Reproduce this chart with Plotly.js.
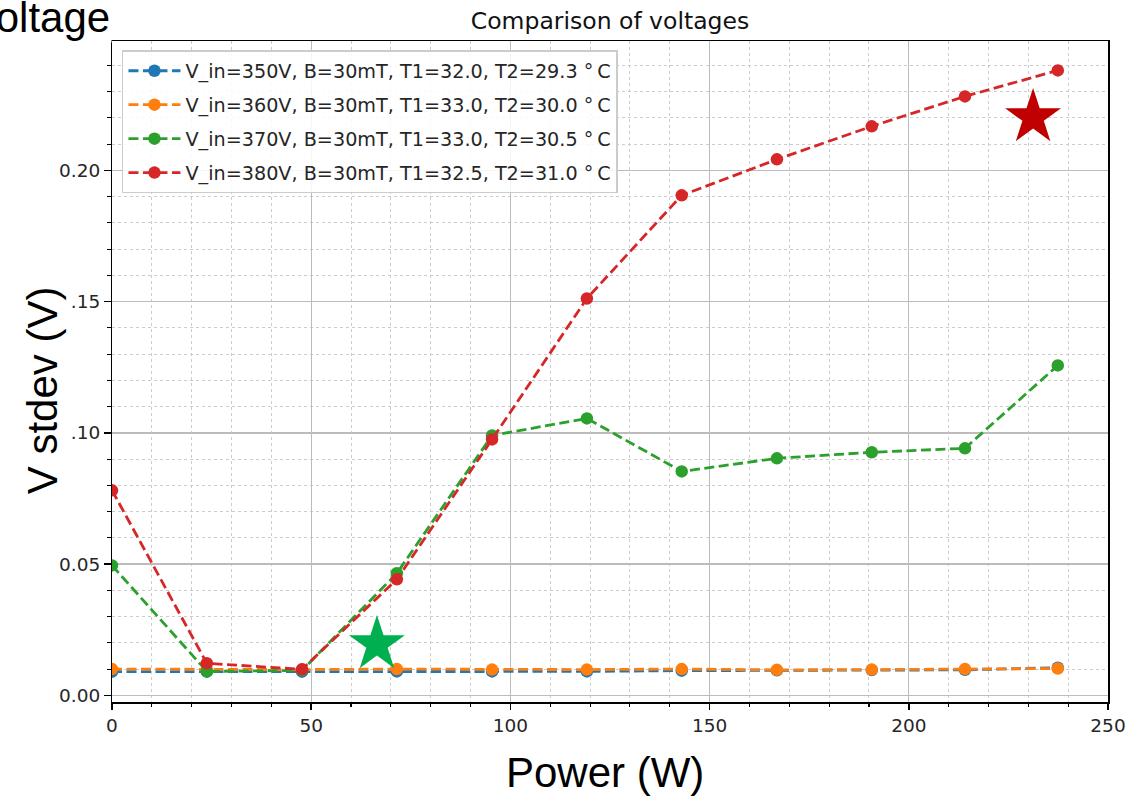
<!DOCTYPE html>
<html>
<head>
<meta charset="utf-8">
<script src="https://cdn.plot.ly/plotly-3.0.1.min.js"></script>
<style>
  html, body { margin: 0; padding: 0; background: #ffffff; }
  #chart { width: 1130px; height: 797px; }
</style>
</head>
<body>
<div id="chart"></div>
<script>
// ---- data ----
const powerW = [0, 23.8, 47.7, 71.5, 95.4, 119.2, 143.0, 166.9, 190.7, 214.1, 237.4];

const vstd350 = [0.0090, 0.0090, 0.0090, 0.0091, 0.0091, 0.0091, 0.0094, 0.0095, 0.0096, 0.0097, 0.0105];
const vstd360 = [0.0100, 0.0098, 0.0098, 0.0100, 0.0098, 0.0098, 0.0100, 0.0097, 0.0098, 0.0100, 0.0102];
const vstd370 = [0.0495, 0.0091, 0.0095, 0.0465, 0.0990, 0.1055, 0.0853, 0.0903, 0.0926, 0.0941, 0.1257];
const vstd380 = [0.0781, 0.0122, 0.0099, 0.0442, 0.0975, 0.1512, 0.1905, 0.2042, 0.2168, 0.2282, 0.2381];

const seriesNames = [
  "V_in=350V, B=30mT, T1=32.0, T2=29.3 °\u2009C",
  "V_in=360V, B=30mT, T1=33.0, T2=30.0 °\u2009C",
  "V_in=370V, B=30mT, T1=33.0, T2=30.5 °\u2009C",
  "V_in=380V, B=30mT, T1=32.5, T2=31.0 °\u2009C"
];
const seriesColors = ["#1f77b4", "#ff7f0e", "#2ca02c", "#d62728"];

// highlight stars pasted on the slide
const starX = [66.5, 231.2];
const starY = [0.0194, 0.2202];
const starColors = ["#00b050", "#c00000"];

const chartTitle = "Comparison of voltages";
const xTitle = "Power (W)";
const yTitle = "V stdev (V)";
const cornerText = "Voltage";

// ---- build traces ----
const allY = [vstd350, vstd360, vstd370, vstd380];
const traces = allY.map((ys, i) => ({
  type: "scatter",
  mode: "lines+markers",
  x: powerW,
  y: ys,
  name: seriesNames[i],
  legendgroup: "g" + i,
  line: { color: seriesColors[i], width: 2.8, dash: "10px,4.5px" },
  marker: { color: seriesColors[i], size: 12.5 },
  hoverinfo: "skip"
}));

traces.push({
  type: "scatter",
  mode: "markers",
  x: starX,
  y: starY,
  showlegend: false,
  hoverinfo: "skip",
  marker: { symbol: "star", size: 42, color: starColors, line: { width: 0 } }
});

const tickFont = { family: "DejaVu Sans", size: 18.5, color: "#262626" };
const bigFont = { family: "Liberation Sans, Arial", size: 42, color: "#000000" };

const layout = {
  width: 1130,
  height: 797,
  margin: { l: 112, r: 22, t: 41, b: 95, pad: 0 },
  paper_bgcolor: "#ffffff",
  plot_bgcolor: "#ffffff",
  showlegend: true,
  title: {
    text: chartTitle,
    font: { family: "DejaVu Sans", size: 23.5, color: "#111111" },
    xref: "paper", x: 0.5, xanchor: "center",
    yref: "paper", y: 1, yanchor: "bottom",
    pad: { b: 12 }
  },
  xaxis: {
    range: [0, 250],
    dtick: 50, tick0: 0,
    ticks: "outside", ticklen: 6.5, tickwidth: 1.5, tickcolor: "#000",
    showline: true, linecolor: "#000", linewidth: 1.5, mirror: true,
    showgrid: true, gridcolor: "#bcbcbc", gridwidth: 1.4,
    zeroline: false,
    tickfont: tickFont,
    minor: { dtick: 10, tick0: 0, ticks: "outside", ticklen: 3.7, tickwidth: 1.1, tickcolor: "#000",
             showgrid: true, gridcolor: "#cccccc", gridwidth: 1, griddash: "dot" }
  },
  yaxis: {
    range: [-0.00255, 0.2493],
    dtick: 0.05, tick0: 0, tickformat: ".2f",
    ticks: "outside", ticklen: 6.5, tickwidth: 1.5, tickcolor: "#000",
    showline: true, linecolor: "#000", linewidth: 1.5, mirror: true,
    showgrid: true, gridcolor: "#bcbcbc", gridwidth: 1.4,
    zeroline: false,
    tickfont: tickFont,
    minor: { dtick: 0.01, tick0: 0, ticks: "outside", ticklen: 3.7, tickwidth: 1.1, tickcolor: "#000",
             showgrid: true, gridcolor: "#cccccc", gridwidth: 1, griddash: "dot" }
  },
  legend: {
    x: 0.010, y: 0.986, xanchor: "left", yanchor: "top",
    bgcolor: "rgba(255,255,255,0.85)",
    bordercolor: "#cccccc", borderwidth: 1.5,
    font: { family: "DejaVu Sans", size: 19.2, color: "#262626" },
    traceorder: "grouped",
    tracegroupgap: 6,
    itemwidth: 52
  },
  annotations: [
    {
      text: xTitle, xref: "paper", yref: "paper", x: 0.495, y: -0.107,
      xanchor: "center", yanchor: "middle", showarrow: false,
      font: bigFont, bgcolor: "#ffffff"
    },
    {
      text: yTitle, xref: "paper", yref: "paper", x: -0.070, y: 0.472,
      xanchor: "center", yanchor: "middle", showarrow: false, textangle: -90,
      font: bigFont, bgcolor: "#ffffff", borderpad: 5
    },
    {
      text: cornerText, xref: "paper", yref: "paper", x: -0.145, y: 1.035,
      xanchor: "left", yanchor: "middle", showarrow: false,
      font: bigFont, bgcolor: "#ffffff"
    }
  ]
};

Plotly.newPlot("chart", traces, layout, { staticPlot: true, displayModeBar: false });
</script>
</body>
</html>
